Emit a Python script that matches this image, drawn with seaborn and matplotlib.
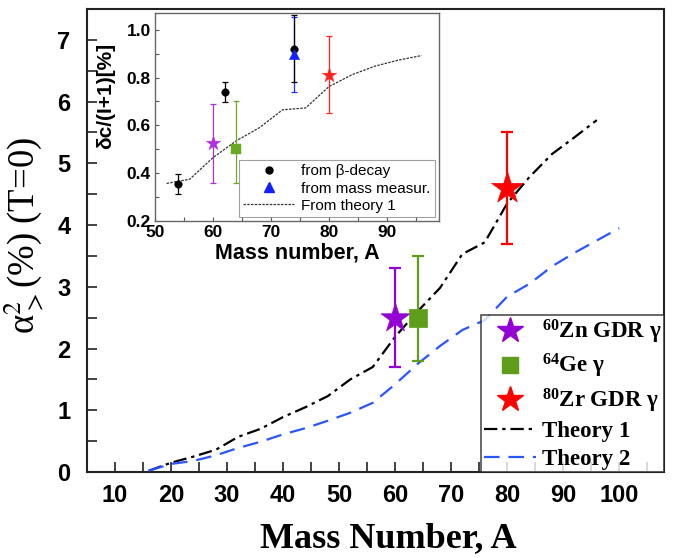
import numpy as np
import pandas as pd
import matplotlib
matplotlib.use("Agg")
import matplotlib.pyplot as plt
import seaborn as sns
from matplotlib.ticker import MultipleLocator
from matplotlib.lines import Line2D
from matplotlib.font_manager import FontProperties

# ---------------- data ----------------
theory1_A = [16, 20, 24, 28, 32, 36, 40, 44, 48, 52, 56, 60, 64, 68, 72, 76, 80, 84, 88, 92, 96]
theory1_val = [0.02, 0.15, 0.25, 0.36, 0.57, 0.70, 0.89, 1.05, 1.23, 1.50, 1.70, 2.19, 2.60, 2.98,
               3.53, 3.72, 4.35, 4.78, 5.15, 5.42, 5.70]
theory2_A = [16, 20, 24, 28, 32, 36, 40, 44, 48, 52, 56, 60, 64, 68, 72, 76, 80, 84, 88, 92, 96, 100]
theory2_val = [0.02, 0.13, 0.18, 0.27, 0.39, 0.49, 0.61, 0.71, 0.83, 0.96, 1.12, 1.42, 1.75, 2.04,
               2.30, 2.46, 2.84, 3.05, 3.33, 3.55, 3.75, 3.95]

exp_labels = ["$^{60}$Zn GDR \u03b3", "$^{64}$Ge \u03b3", "$^{80}$Zr GDR \u03b3"]
exp_A = [60, 64, 80]
exp_val = [2.5, 2.5, 4.6]
exp_err_lo = [0.8, 0.7, 0.9]
exp_err_hi = [0.8, 1.0, 0.9]

# inset data
inset_theory_A = [52, 56, 60, 64, 68, 72, 76, 80, 84, 88, 92, 96]
inset_theory_val = [0.357, 0.375, 0.465, 0.535, 0.59, 0.665, 0.673, 0.762, 0.812, 0.848, 0.873, 0.892]
beta_A = [54, 62, 74]
beta_val = [0.355, 0.74, 0.92]
beta_err = [0.042, 0.043, 0.14]
mass_A = [74]
mass_val = [0.90]
mass_err_lo = [0.16]
mass_err_hi = [0.155]
inset_exp_A = [60, 64, 80]
inset_exp_val = [0.525, 0.50, 0.81]
inset_exp_lo = [0.165, 0.14, 0.16]
inset_exp_hi = [0.165, 0.20, 0.165]

exp_colors = ["#9400D3", "#5E9E1A", "#FF0000"]
inset_exp_colors = ["#B030E0", "#6AAA22", "#FF2020"]
exp_markers = ["*", "s", "*"]
exp_msize = [22, 13, 24]
leg_msize = [19, 12, 19]
inset_msize = [11, 7, 11]

# ---------------- style ----------------
sns.set_theme(style="ticks")
plt.rcParams["font.family"] = ["Liberation Sans", "DejaVu Sans"]
plt.rcParams["mathtext.fontset"] = "custom"
plt.rcParams["mathtext.rm"] = "Liberation Serif:bold"
plt.rcParams["mathtext.it"] = "Liberation Serif:bold"
plt.rcParams["mathtext.bf"] = "Liberation Serif:bold"
for k in ["text.color", "axes.labelcolor", "xtick.color", "ytick.color"]:
    plt.rcParams[k] = "black"

fig = plt.figure(figsize=(6.83, 5.58), dpi=100)
ax = fig.add_axes([87 / 683, 1 - 472 / 558, (664 - 87) / 683, (472 - 9) / 558])

df1 = pd.DataFrame({"A": theory1_A, "v": theory1_val})
df2 = pd.DataFrame({"A": theory2_A, "v": theory2_val})
sns.lineplot(data=df1, x="A", y="v", ax=ax, color="black", lw=1.6,
             linestyle=(0, (6, 2.2, 1.5, 2.2)), zorder=3)
sns.lineplot(data=df2, x="A", y="v", ax=ax, color="#2A55FF", lw=1.6,
             linestyle=(0, (7, 4)), zorder=3)

for i in range(3):
    ax.errorbar([exp_A[i]], [exp_val[i]], yerr=[[exp_err_lo[i]], [exp_err_hi[i]]],
                fmt="none", ecolor=exp_colors[i], elinewidth=1.6, capsize=4.5, capthick=1.6, zorder=4)
    sns.scatterplot(x=[exp_A[i]], y=[exp_val[i]], ax=ax, marker=exp_markers[i],
                    s=exp_msize[i] ** 2, color=exp_colors[i], edgecolor=exp_colors[i],
                    linewidth=0.5, zorder=5)

ax.set_xlim(5, 108)
ax.set_ylim(0, 7.5)
ax.xaxis.set_major_locator(MultipleLocator(10))
ax.xaxis.set_minor_locator(MultipleLocator(5))
ax.yaxis.set_major_locator(MultipleLocator(1))
ax.yaxis.set_minor_locator(MultipleLocator(0.5))
ax.set_xticks(range(10, 101, 10))
ax.tick_params(axis="both", which="both", direction="in", top=False, right=False, width=1.2, color="#222")
ax.tick_params(axis="both", which="both", length=7)
ax.tick_params(axis="y", pad=12)
ax.tick_params(axis="x", pad=9)
for lab in ax.get_xticklabels() + ax.get_yticklabels():
    lab.set_fontweight("bold")
    lab.set_fontsize(17)
for s in ax.spines.values():
    s.set_linewidth(1.5)
    s.set_color("#222")

ax.set_xlabel("Mass Number, A", fontfamily="Liberation Serif", fontweight="bold", fontsize=26)
ax.xaxis.set_label_coords(0.523, -0.108)
ax.set_ylabel("\u03b1$^{2}_{>}$(%) (T=0)", fontfamily="Liberation Serif", fontsize=26.5,
              math_fontfamily="stix")
ax.yaxis.set_label_coords(-0.07, 0.51)

handles = []
for i in range(3):
    handles.append(Line2D([], [], marker=exp_markers[i], color=exp_colors[i], linestyle="none",
                          markersize=leg_msize[i]))
handles.append(Line2D([], [], color="black", lw=1.6, linestyle=(0, (6, 2.2, 1.5, 2.2))))
handles.append(Line2D([], [], color="#2A55FF", lw=1.6, linestyle=(0, (7, 4))))
labels = exp_labels + ["Theory 1", "Theory 2"]
leg = ax.legend(handles, labels, loc="lower right", bbox_to_anchor=(1.0, 0.0), borderaxespad=0.0,
                prop=FontProperties(family="Liberation Serif", weight="bold", size=16.5),
                frameon=True, fancybox=False, edgecolor="#222", handlelength=2.3,
                handletextpad=0.25, borderpad=0.1, labelspacing=0.28)
leg.get_frame().set_linewidth(1.2)

# ---------------- inset ----------------
axi = fig.add_axes([155 / 683, 1 - 221 / 558, (439 - 155) / 683, (221 - 13) / 558])
dfi = pd.DataFrame({"A": inset_theory_A, "v": inset_theory_val})
sns.lineplot(data=dfi, x="A", y="v", ax=axi, color="#333333", lw=0.9,
             linestyle=(0, (2, 1)), zorder=2)

for i in range(3):
    axi.errorbar([inset_exp_A[i]], [inset_exp_val[i]], yerr=[[inset_exp_lo[i]], [inset_exp_hi[i]]],
                 fmt="none", ecolor=inset_exp_colors[i], elinewidth=0.9, capsize=2.5, capthick=0.9, zorder=3)
    sns.scatterplot(x=[inset_exp_A[i]], y=[inset_exp_val[i]], ax=axi, marker=exp_markers[i],
                    s=inset_msize[i] ** 2, color=inset_exp_colors[i], edgecolor=inset_exp_colors[i],
                    linewidth=0.3, zorder=4)

axi.errorbar(mass_A, mass_val, yerr=[mass_err_lo, mass_err_hi], fmt="none", ecolor="#2030FF",
             elinewidth=0.9, capsize=2.5, capthick=0.9, zorder=3)
axi.errorbar(beta_A, beta_val, yerr=beta_err, fmt="none", ecolor="black",
             elinewidth=0.9, capsize=2.5, capthick=0.9, zorder=3)
sns.scatterplot(x=beta_A, y=beta_val, ax=axi, marker="o", s=30, color="black",
                edgecolor="black", linewidth=0.3, zorder=4)
sns.scatterplot(x=mass_A, y=mass_val, ax=axi, marker="^", s=55, color="#1020FF",
                edgecolor="#1020FF", linewidth=0.3, zorder=5)

axi.set_xlim(50, 99)
axi.set_ylim(0.2, 1.07)
axi.xaxis.set_major_locator(MultipleLocator(10))
axi.xaxis.set_minor_locator(MultipleLocator(5))
axi.yaxis.set_major_locator(MultipleLocator(0.2))
axi.yaxis.set_minor_locator(MultipleLocator(0.1))
axi.tick_params(axis="both", which="both", direction="in", top=False, right=False,
                width=0.8, length=3, color="#555")
axi.tick_params(axis="both", which="major", pad=3)
axi.set_yticks([0.2, 0.4, 0.6, 0.8, 1.0])
axi.set_yticklabels(["0.2", "0.4", "0.6", "0.8", "1.0"])
for lab in axi.get_xticklabels() + axi.get_yticklabels():
    lab.set_fontweight("bold")
    lab.set_fontsize(12.5)
for s in axi.spines.values():
    s.set_linewidth(1.0)
    s.set_color("#666")
axi.set_xlabel("Mass number, A", fontweight="bold", fontsize=15.5, labelpad=2)
axi.set_ylabel("\u03b4c/(I+1)[%]", fontweight="bold", fontsize=15, labelpad=2)
axi.yaxis.set_label_coords(-0.14, 0.6)

ih = [Line2D([], [], marker="o", color="black", linestyle="none", markersize=5),
      Line2D([], [], marker="^", color="#1020FF", linestyle="none", markersize=7),
      Line2D([], [], color="#333333", lw=0.9, linestyle=(0, (2, 1)))]
il = ["from \u03b2-decay", "from mass measur.", "From theory 1"]
leg2 = axi.legend(ih, il, loc="lower right", bbox_to_anchor=(1.0, 0.0), borderaxespad=0.25,
                  prop=FontProperties(family="Liberation Sans", size=11), frameon=True,
                  fancybox=False, edgecolor="#888", handlelength=3.3, handletextpad=0.5,
                  borderpad=0.3, labelspacing=0.2)
leg2.get_frame().set_linewidth(0.8)

fig.savefig("out.png", dpi=100)
